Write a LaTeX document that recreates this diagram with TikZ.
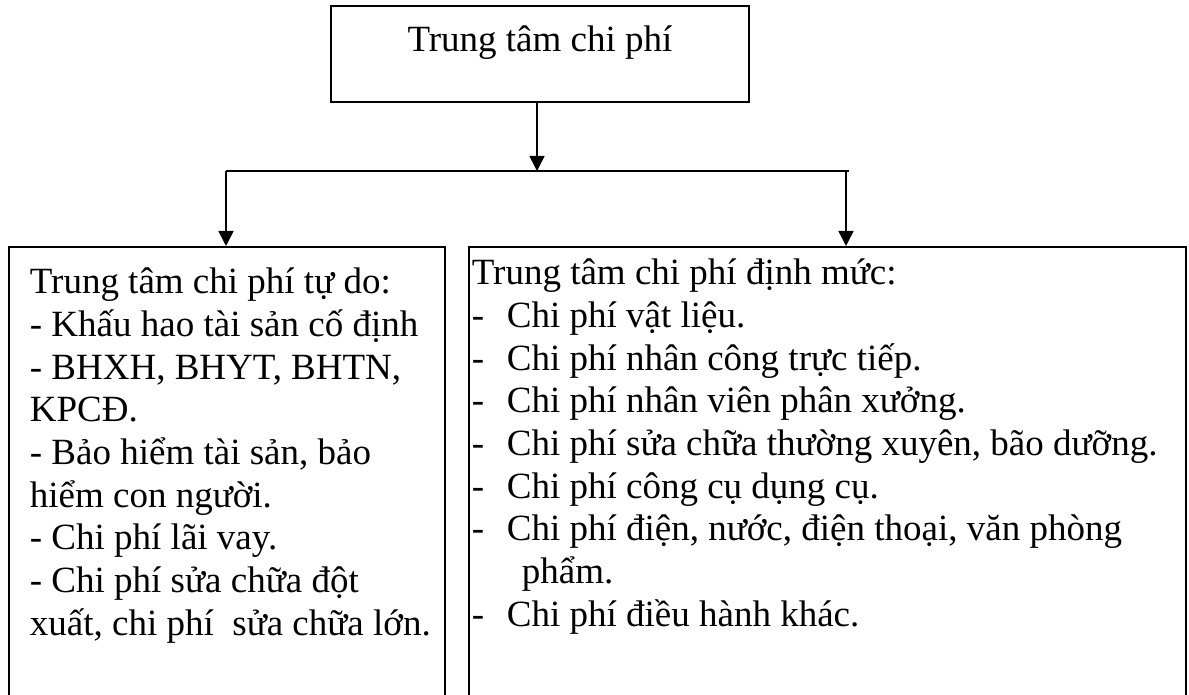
\documentclass[tikz,border=0pt]{standalone}
\usepackage{fontspec}
\setmainfont{Liberation Serif}
\usetikzlibrary{arrows.meta,positioning}
\newcommand{\dashitem}{\makebox[35pt][l]{-}}

\begin{document}
\begin{tikzpicture}[x=1pt,y=-1pt,line width=1.8pt,
  box/.style={draw, inner sep=0pt},
  list/.style={inner sep=0pt, anchor=north west, align=left, font=\fontsize{37}{42.7}\selectfont},
  arr/.style={-{Triangle[width=15pt,length=15pt]}, line width=1.5pt}]
\useasboundingbox (0,0) rectangle (1189,695);
\clip (0,0) rectangle (1189,695);
% top box and the two lower boxes (open below)
\node[box, anchor=base, minimum width=418pt, text height=46pt, text depth=50pt, font=\fontsize{37}{42.7}\selectfont] (top) at (540,52) {Trung tâm chi phí};
\node[box, anchor=north west, minimum width=436pt, minimum height=500pt] (free) at (8,246) {};
\node[box, anchor=north west, minimum width=717pt, minimum height=500pt] (norm) at (468,246) {};
\node[list] (freelist) at (29,267) {Trung tâm chi phí tự do:\\
- Khấu hao tài sản cố định\\
- BHXH, BHYT, BHTN,\\
KPCĐ.\\
- Bảo hiểm tài sản, bảo\\
hiểm con người.\\
- Chi phí lãi vay.\\
- Chi phí sửa chữa đột\\
xuất, chi phí\ \ sửa chữa lớn.};
\node[list] (normlist) at (471,258) {Trung tâm chi phí định mức:\\
\dashitem Chi phí vật liệu.\\
\dashitem Chi phí nhân công trực tiếp.\\
\dashitem Chi phí nhân viên phân xưởng.\\
\dashitem Chi phí sửa chữa thường xuyên, bão dưỡng.\\
\dashitem Chi phí công cụ dụng cụ.\\
\dashitem Chi phí điện, nước, điện thoại, văn phòng\\
\hspace*{50pt}phẩm.\\
\dashitem Chi phí điều hành khác.};
% connectors
\coordinate (fork) at (537,171);
\coordinate (forkL) at (226,171);
\coordinate (forkR) at (846,171);
\draw[arr] (fork |- top.south) -- (fork);
\draw[line width=1.5pt] (forkL) -- ([xshift=3pt]forkR);
\draw[arr] (forkL) -- (forkL |- free.north);
\draw[arr] (forkR) -- (forkR |- norm.north);
\end{tikzpicture}
\end{document}
